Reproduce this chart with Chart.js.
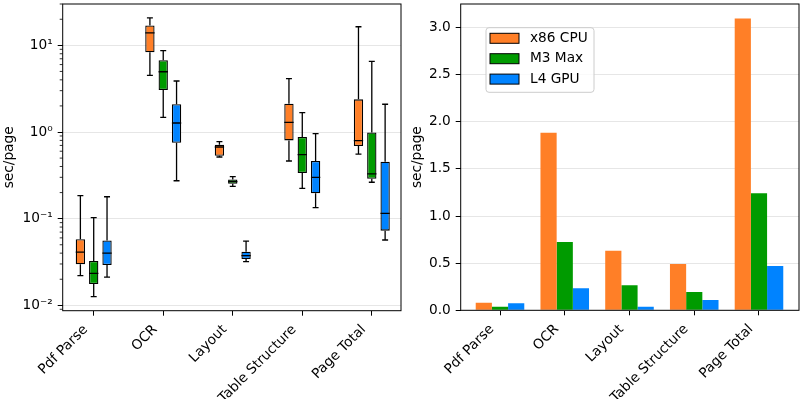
<!DOCTYPE html>
<html>
<head>
<meta charset="utf-8">
<script src="https://cdn.jsdelivr.net/npm/chart.js@4.4.1/dist/chart.umd.min.js"></script>
<style>
  html, body { margin: 0; padding: 0; background: #fff; }
  #wrap { position: relative; width: 802px; height: 399px; }
  #boxChart { position: absolute; left: 0; top: 0; }
  #barChart { position: absolute; left: 402px; top: 0; }
</style>
</head>
<body>
<div id="wrap">
  <canvas id="boxChart" width="402" height="399"></canvas>
  <canvas id="barChart" width="400" height="399"></canvas>
</div>
<script>
const categories = ['Pdf Parse', 'OCR', 'Layout', 'Table Structure', 'Page Total'];
const devices = ['x86 CPU', 'M3 Max', 'L4 GPU'];
const colors = ['#ff7f27', '#009b00', '#0083ff'];

// per category: [low whisker, q1, median, q3, high whisker] in sec/page
const cpuBoxes = [[0.022, 0.0297, 0.041, 0.058, 0.184], [4.5, 8.3, 13.9, 17.0, 20.7], [0.515, 0.533, 0.671, 0.714, 0.773], [0.463, 0.80, 1.29, 2.12, 4.12], [0.557, 0.69, 0.794, 2.38, 16.4]];
const m3Boxes = [[0.0126, 0.0176, 0.0234, 0.0325, 0.1026], [1.476, 3.05, 4.96, 6.72, 8.67], [0.236, 0.253, 0.267, 0.284, 0.305], [0.224, 0.336, 0.548, 0.875, 1.67], [0.263, 0.289, 0.328, 0.99, 6.54]];
const l4Boxes = [[0.0212, 0.0292, 0.040, 0.056, 0.179], [0.274, 0.753, 1.27, 2.09, 3.88], [0.0319, 0.0343, 0.0374, 0.0416, 0.0552], [0.134, 0.196, 0.30, 0.463, 0.957], [0.0567, 0.0727, 0.115, 0.454, 2.09]];

// mean sec/page
const cpuMean = [0.081, 1.885, 0.633, 0.492, 3.096];
const m3Mean = [0.038, 0.725, 0.265, 0.194, 1.242];
const l4Mean = [0.074, 0.233, 0.038, 0.109, 0.470];

const logTicks = [0.01, 0.1, 1, 10];
const logTickLabels = ['10⁻²', '10⁻¹', '10⁰', '10¹'];
const barTicks = [0, 0.5, 1, 1.5, 2, 2.5, 3];

Chart.defaults.font.family = "'DejaVu Sans', sans-serif";
Chart.defaults.font.size = 13.7;
Chart.defaults.color = '#000';

const boxSeries = [cpuBoxes, m3Boxes, l4Boxes];

const frame = {
    id: 'frame',
    afterDraw(chart) {
        const a = chart.chartArea;
        const ctx = chart.ctx;
        ctx.save();
        ctx.strokeStyle = '#000';
        ctx.lineWidth = 1;
        ctx.strokeRect(a.left, a.top, a.right - a.left, a.bottom - a.top);
        ctx.restore();
    }
};

const boxWhiskers = {
    id: 'boxWhiskers',
    afterDatasetsDraw(chart) {
        const ctx = chart.ctx;
        const yScale = chart.scales.y;
        const py = v => yScale.getPixelForValue(v);
        ctx.save();
        ctx.strokeStyle = '#000';
        ctx.lineWidth = 1.3;
        boxSeries.forEach((boxes, d) => {
            chart.getDatasetMeta(d).data.forEach((bar, i) => {
                const [lo, q1, med, q3, hi] = boxes[i];
                const x = bar.x;
                const half = bar.width / 2;
                const cap = bar.width * 0.32;
                ctx.beginPath();
                ctx.moveTo(x, py(q3)); ctx.lineTo(x, py(hi));
                ctx.moveTo(x - cap, py(hi)); ctx.lineTo(x + cap, py(hi));
                ctx.moveTo(x, py(q1)); ctx.lineTo(x, py(lo));
                ctx.moveTo(x - cap, py(lo)); ctx.lineTo(x + cap, py(lo));
                ctx.moveTo(x - half, py(med)); ctx.lineTo(x + half, py(med));
                ctx.stroke();
            });
        });
        ctx.restore();
    }
};

const minorLogTicks = {
    id: 'minorLogTicks',
    afterDraw(chart) {
        const y = chart.scales.y;
        const left = chart.chartArea.left;
        const ctx = chart.ctx;
        ctx.save();
        ctx.strokeStyle = '#000';
        ctx.lineWidth = 0.8;
        ctx.beginPath();
        for (let e = -3; e <= 1; e++) {
            for (let m = 2; m <= 9; m++) {
                const v = m * Math.pow(10, e);
                if (v < y.min || v > y.max) continue;
                const p = y.getPixelForValue(v);
                ctx.moveTo(left - 3, p);
                ctx.lineTo(left, p);
            }
        }
        ctx.stroke();
        ctx.restore();
    }
};

const legendBox = {
    id: 'legendBox',
    afterDraw(chart) {
        const ctx = chart.ctx;
        const a = chart.chartArea;
        const x = a.left + 25.3, y = a.top + 23.7, w = 108, h = 64.6, r = 3;
        ctx.save();
        ctx.beginPath();
        ctx.moveTo(x + r, y);
        ctx.arcTo(x + w, y, x + w, y + h, r);
        ctx.arcTo(x + w, y + h, x, y + h, r);
        ctx.arcTo(x, y + h, x, y, r);
        ctx.arcTo(x, y, x + w, y, r);
        ctx.closePath();
        ctx.fillStyle = 'rgba(255,255,255,0.8)';
        ctx.fill();
        ctx.strokeStyle = '#cccccc';
        ctx.lineWidth = 1;
        ctx.stroke();
        ctx.font = "13.7px 'DejaVu Sans'";
        ctx.textBaseline = 'middle';
        chart.data.datasets.forEach((ds, i) => {
            const cy = y + 10.6 + i * 20.4;
            ctx.fillStyle = ds.backgroundColor;
            ctx.fillRect(x + 4, cy - 5, 29, 10);
            ctx.strokeStyle = '#000';
            ctx.strokeRect(x + 4, cy - 5, 29, 10);
            ctx.fillStyle = '#000';
            ctx.fillText(ds.label, x + 44, cy);
        });
        ctx.restore();
    }
};

function catAxis(min, max, height) {
    return {
        type: 'linear',
        min: min,
        max: max,
        offset: false,
        afterBuildTicks: s => { s.ticks = categories.map((c, i) => ({ value: i })); },
        afterFit: s => { s.height = height; s.paddingLeft = 0; s.paddingRight = 0; },
        ticks: { callback: v => categories[v], minRotation: 45, maxRotation: 45, padding: 6, labelOffset: -8, autoSkip: false },
        grid: { offset: false, drawOnChartArea: false, tickColor: '#000', tickLength: 5 },
        border: { display: false }
    };
}

function valueAxisFit(width) {
    return s => { s.width = width; s.paddingTop = 0; s.paddingBottom = 0; };
}

new Chart(document.getElementById('boxChart'), {
    type: 'bar',
    data: {
        datasets: boxSeries.map((boxes, d) => ({
            label: devices[d],
            data: boxes.map((b, i) => ({ x: i, y: [b[1], b[3]] })),
            backgroundColor: colors[d],
            borderColor: '#000',
            borderWidth: 1.3,
            borderSkipped: false,
            categoryPercentage: 0.575,
            barPercentage: 0.7
        }))
    },
    options: {
        responsive: false,
        animation: false,
        devicePixelRatio: 1,
        layout: { padding: { left: 0, right: 1, top: 4, bottom: 0 } },
        plugins: { legend: { display: false }, tooltip: { enabled: false } },
        scales: {
            x: catAxis(-0.446, 4.42, 88.3),
            y: {
                type: 'logarithmic',
                min: 0.00867,
                max: 30.0,
                afterBuildTicks: s => { s.ticks = logTicks.map(v => ({ value: v, major: true })); },
                afterFit: valueAxisFit(62.7),
                ticks: { callback: (v, i) => logTickLabels[i], padding: 5 },
                grid: { color: '#e6e6e6', tickColor: '#000', tickLength: 5 },
                border: { display: false },
                title: { display: true, text: 'sec/page', padding: { top: 1.4, bottom: 0 } }
            }
        }
    },
    plugins: [boxWhiskers, minorLogTicks, frame]
});

new Chart(document.getElementById('barChart'), {
    type: 'bar',
    data: {
        datasets: [cpuMean, m3Mean, l4Mean].map((vals, d) => ({
            label: devices[d],
            data: vals.map((v, i) => ({ x: i, y: v })),
            backgroundColor: colors[d],
            borderWidth: 0,
            categoryPercentage: 0.75,
            barPercentage: 1
        }))
    },
    options: {
        responsive: false,
        animation: false,
        devicePixelRatio: 1,
        layout: { padding: { left: 0, right: 3, top: 4, bottom: 0 } },
        plugins: { legend: { display: false }, tooltip: { enabled: false } },
        scales: {
            x: catAxis(-0.607, 4.618, 88.7),
            y: {
                min: 0,
                max: 3.25,
                afterBuildTicks: s => { s.ticks = barTicks.map(v => ({ value: v })); },
                afterFit: valueAxisFit(58.7),
                ticks: { callback: v => v.toFixed(1), padding: 5 },
                grid: { color: '#e6e6e6', tickColor: '#000', tickLength: 5 },
                border: { display: false },
                title: { display: true, text: 'sec/page', padding: { top: 7.2, bottom: 0 } }
            }
        }
    },
    plugins: [legendBox, frame]
});
</script>
</body>
</html>
